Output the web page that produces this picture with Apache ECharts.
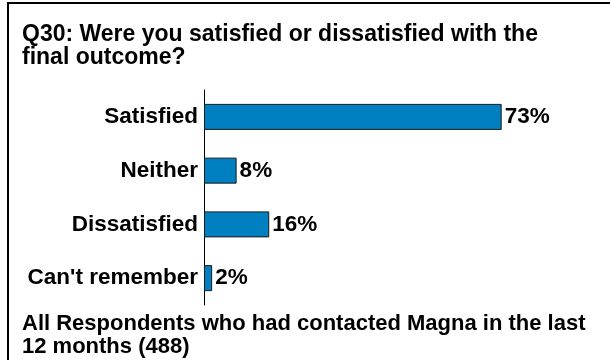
<!DOCTYPE html>
<html>
<head>
<meta charset="utf-8">
<script src="https://cdn.jsdelivr.net/npm/echarts@6/dist/echarts.min.js"></script>
<style>
  html, body { margin: 0; padding: 0; background: #fff; }
  #chart { width: 610px; height: 360px; }
</style>
</head>
<body>
<div id="chart"></div>
<script>
// Survey answers, top to bottom
const categories = ["Satisfied", "Neither", "Dissatisfied", "Can't remember"];
const percentages = [73, 8, 16, 2];
const titleLines = ["Q30: Were you satisfied or dissatisfied with the", "final outcome?"];
const baseLines = ["All Respondents who had contacted Magna in the last", "12 months (488)"];

const FONT = "'Liberation Sans', Arial, sans-serif";
const chart = echarts.init(document.getElementById('chart'), null, { renderer: 'canvas' });

chart.setOption({
  animation: false,
  backgroundColor: '#ffffff',
  title: [
    {
      text: titleLines.join('\n'),
      left: 22, top: 23, padding: 0,
      textStyle: { fontFamily: FONT, fontSize: 23, fontWeight: 'bold', color: '#000', lineHeight: 23 }
    },
    {
      text: baseLines.join('\n'),
      left: 22, top: 312, padding: 0,
      textStyle: { fontFamily: FONT, fontSize: 22, fontWeight: 'bold', color: '#000', lineHeight: 23 }
    }
  ],
  graphic: [
    // frame: top and left edges of the panel
    { type: 'polyline', shape: { points: [[8, 362], [8, 3], [612, 3]] },
      style: { stroke: '#000', lineWidth: 2, fill: null } }
  ],
  grid: { left: 204, right: 39, top: 90, height: 215, containLabel: false },
  xAxis: {
    type: 'value', min: 0, max: 90,
    show: false
  },
  yAxis: {
    type: 'category',
    data: categories,
    inverse: true,
    axisLine: { show: true, lineStyle: { color: '#000', width: 1 } },
    axisTick: { show: false },
    axisLabel: { fontFamily: FONT, fontSize: 22.5, fontWeight: 'bold', color: '#000', margin: 6 }
  },
  series: [{
    type: 'bar',
    data: percentages,
    barWidth: 26,
    itemStyle: { color: '#0080c0', borderColor: '#1a1a1a', borderWidth: 1 },
    label: {
      show: true, position: 'right', distance: 3,
      formatter: p => p.value + '%',
      fontFamily: FONT, fontSize: 22.5, fontWeight: 'bold', color: '#000'
    }
  }]
});
</script>
</body>
</html>
